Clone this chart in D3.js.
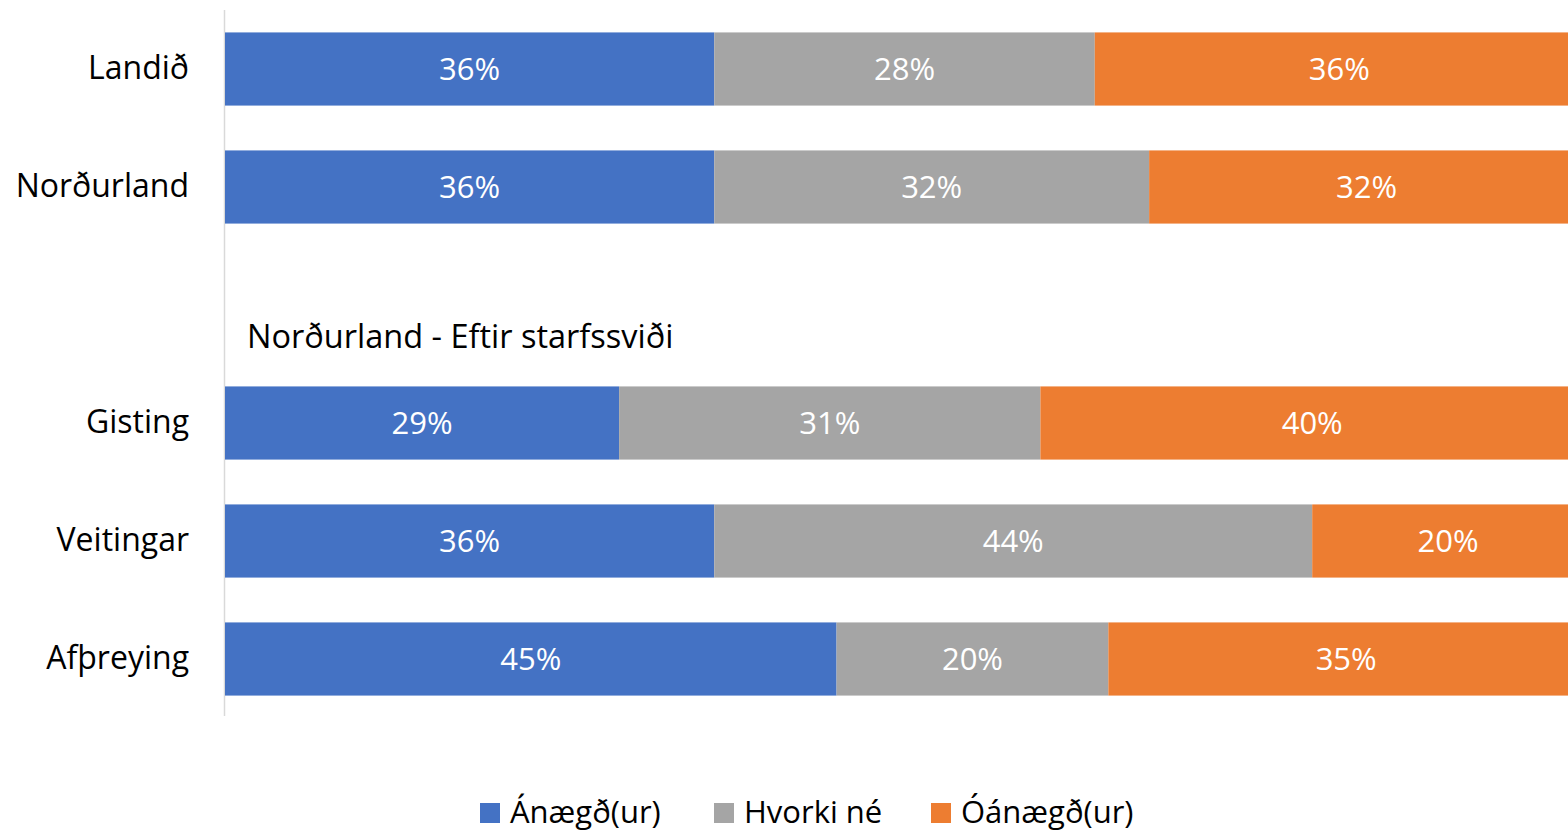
<!DOCTYPE html>
<html>
<head>
<meta charset="utf-8">
<script src="https://cdn.jsdelivr.net/npm/d3@7"></script>
<style>
  html, body { margin: 0; padding: 0; background: #fff; overflow: hidden; }
  svg { display: block; font-family: "Open Sans", "Noto Sans", sans-serif; }
</style>
</head>
<body>
<div id="chart"></div>
<script>
var width = 1568;
var height = 831;

// rows (top to bottom); the empty row holds the sub heading
var categories = ["Landið", "Norðurland", "", "Gisting", "Veitingar", "Afþreying"];
var seriesNames = ["Ánægð(ur)", "Hvorki né", "Óánægð(ur)"];
var seriesColors = ["#4472C4", "#A5A5A5", "#ED7D31"];
var anaegd = [0.36, 0.36, null, 0.29, 0.36, 0.45];
var hvorki = [0.28, 0.32, null, 0.31, 0.44, 0.20];
var oanaegd = [0.36, 0.32, null, 0.40, 0.20, 0.35];
var subTitle = "Norðurland - Eftir starfssviði";

function createSVG() {
  return d3.select("#chart")
    .append("svg")
    .attr("width", width)
    .attr("height", height);
}

function buildRows() {
  var rows = [];
  categories.forEach(function(c, i) {
    if (anaegd[i] == null) return;
    var vals = [anaegd[i], hvorki[i], oanaegd[i]];
    var x0 = 0;
    vals.forEach(function(v, k) {
      rows.push({ cat: c, key: k, x0: x0, x1: x0 + v, v: v });
      x0 += v;
    });
  });
  return rows;
}

function drawChart(svg) {
  var x = d3.scaleLinear().domain([0, 1]).range([225, 1584]);
  var y = d3.scaleBand().domain(categories).range([10, 718]).paddingInner(0.38).paddingOuter(0.19);

  // vertical axis line
  svg.append("line")
    .attr("x1", 224.5).attr("x2", 224.5)
    .attr("y1", 10).attr("y2", 716)
    .attr("stroke", "#d9d9d9")
    .attr("stroke-width", 1.5);

  var rows = buildRows();

  svg.selectAll("rect.seg")
    .data(rows)
    .enter()
    .append("rect")
    .attr("class", "seg")
    .attr("x", function(d) { return x(d.x0); })
    .attr("y", function(d) { return y(d.cat); })
    .attr("width", function(d) { return x(d.x1) - x(d.x0); })
    .attr("height", y.bandwidth())
    .attr("fill", function(d) { return seriesColors[d.key]; });

  svg.selectAll("text.val")
    .data(rows)
    .enter()
    .append("text")
    .attr("class", "val")
    .attr("x", function(d) { return (x(d.x0) + x(d.x1)) / 2; })
    .attr("y", function(d) { return y(d.cat) + y.bandwidth() / 2 - 1; })
    .attr("text-anchor", "middle")
    .attr("dominant-baseline", "central")
    .attr("fill", "#fff")
    .style("font-size", "31px")
    .text(function(d) { return Math.round(d.v * 100) + "%"; });

  // category labels
  svg.selectAll("text.cat")
    .data(categories.filter(function(c) { return c !== ""; }))
    .enter()
    .append("text")
    .attr("class", "cat")
    .attr("x", 189)
    .attr("y", function(d) { return y(d) + y.bandwidth() / 2 - 3; })
    .attr("text-anchor", "end")
    .attr("dominant-baseline", "central")
    .attr("fill", "#000")
    .style("font-size", "32px")
    .text(function(d) { return d; });

  svg.append("text")
    .attr("x", 247)
    .attr("y", 335)
    .attr("dominant-baseline", "central")
    .attr("fill", "#000")
    .style("font-size", "32.5px")
    .text(subTitle);

  // legend
  var legendX = [480, 714, 931];
  var lg = svg.selectAll("g.leg")
    .data(seriesNames)
    .enter()
    .append("g")
    .attr("class", "leg")
    .attr("transform", function(d, i) { return "translate(" + legendX[i] + ",803)"; });
  lg.append("rect")
    .attr("width", 20).attr("height", 20)
    .attr("fill", function(d, i) { return seriesColors[i]; });
  lg.append("text")
    .attr("x", 30)
    .attr("y", 8)
    .attr("dominant-baseline", "central")
    .attr("fill", "#000")
    .style("font-size", "31px")
    .text(function(d) { return d; });
}

window.onload = function() {
  var svg = createSVG();
  drawChart(svg);
};
</script>
</body>
</html>
